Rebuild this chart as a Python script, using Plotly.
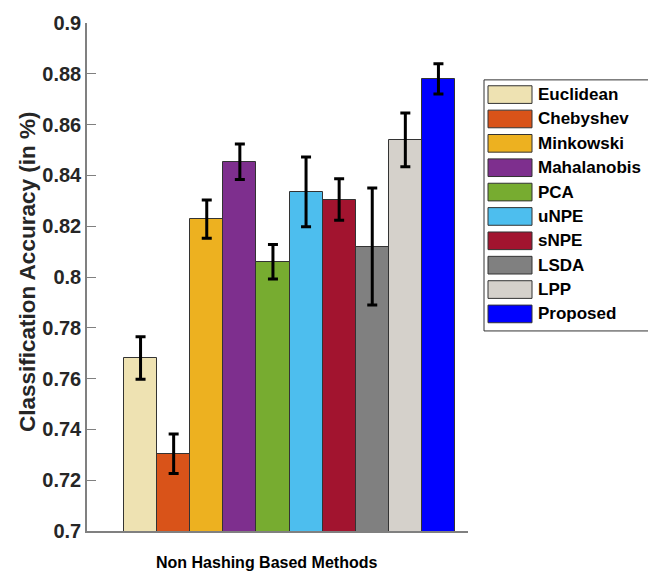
import plotly.graph_objects as go

methods = ["Euclidean", "Chebyshev", "Minkowski", "Mahalanobis", "PCA",
           "uNPE", "sNPE", "LSDA", "LPP", "Proposed"]
accuracy = [0.7681, 0.7304, 0.8228, 0.8454, 0.8060, 0.8335, 0.8305, 0.8120, 0.8540, 0.8780]
errors = [0.0084, 0.0078, 0.0075, 0.0070, 0.0068, 0.0137, 0.0082, 0.0230, 0.0106, 0.0060]
colors = ["#EEE2B2", "#D95319", "#EDB120", "#7E2F8E", "#77AC30",
          "#4DBEEE", "#A2142F", "#808080", "#D5D1CB", "#0000FF"]
ytick_vals = [0.70, 0.72, 0.74, 0.76, 0.78, 0.80, 0.82, 0.84, 0.86, 0.88, 0.90]
ytick_text = ["0.7", "0.72", "0.74", "0.76", "0.78", "0.8", "0.82", "0.84", "0.86", "0.88", "0.9"]
xlabel = "Non Hashing Based Methods"
ylabel = "Classification Accuracy (in %)"

W, H = 648, 575
L, R, T, B = 87, 468, 13, 531

def px(x):
    return (x - L) / (R - L)

def py(y):
    return (B - y) / (B - T)

fig = go.Figure()
for i, (m, v, e, c) in enumerate(zip(methods, accuracy, errors, colors)):
    fig.add_trace(go.Bar(
        x=[i + 1], y=[v], width=1, name=m,
        marker=dict(color=c, line=dict(color="#333333", width=1)),
        error_y=dict(type="data", array=[e], visible=True, color="black",
                     thickness=3, width=5),
        showlegend=False,
    ))

font = "Liberation Sans, Arial, sans-serif"

# manual legend (MATLAB style)
shapes = [dict(type="rect", xref="paper", yref="paper",
               x0=px(484), x1=px(700), y0=py(327), y1=py(71),
               line=dict(color="#333333", width=1), fillcolor="white", layer="above")]
annotations = []
for i, (m, c) in enumerate(zip(methods, colors)):
    top = 77 + 24.85 * i
    shapes.append(dict(type="rect", xref="paper", yref="paper",
                       x0=px(488), x1=px(532), y0=py(top + 18), y1=py(top),
                       line=dict(color="#333333", width=1), fillcolor=c, layer="above"))
    annotations.append(dict(x=px(536), y=py(top + 9), xref="paper", yref="paper",
                            text=m, showarrow=False, xanchor="left", yanchor="middle",
                            font=dict(family=font, size=17, color="black", weight="bold")))

annotations.append(dict(x=px(266.5), y=py(563), xref="paper", yref="paper",
                        text=xlabel, showarrow=False, xanchor="center", yanchor="middle",
                        font=dict(family=font, size=16, color="black", weight="bold")))
annotations.append(dict(x=px(27), y=py(267), xref="paper", yref="paper",
                        text=ylabel, showarrow=False, textangle=-90,
                        xanchor="center", yanchor="middle",
                        font=dict(family=font, size=22.5, color="#262626", weight="bold")))

fig.update_layout(
    width=W, height=H,
    margin=dict(l=L, r=W - R, t=T, b=H - B),
    paper_bgcolor="white", plot_bgcolor="white",
    bargap=0, shapes=shapes, annotations=annotations,
    xaxis=dict(range=[-0.618, 10.893], showline=True, linecolor="#808080", linewidth=1.5,
               showticklabels=False, ticks="", showgrid=False, zeroline=False),
    yaxis=dict(range=[0.7, 0.9], tickvals=ytick_vals, ticktext=ytick_text,
               showline=True, linecolor="#808080", linewidth=1.5,
               ticks="inside", ticklen=9, tickcolor="#808080", tickwidth=1,
               showgrid=False, zeroline=False,
               tickfont=dict(family=font, size=20, color="#262626", weight="bold")),
)

fig.write_html("out.html")
